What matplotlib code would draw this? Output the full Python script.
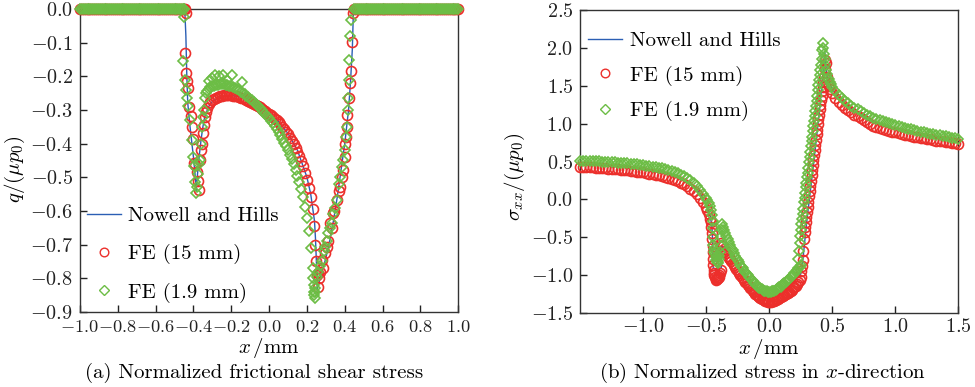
import numpy as np
import matplotlib
matplotlib.use("Agg")
import matplotlib.pyplot as plt
from matplotlib.lines import Line2D
from matplotlib.ticker import FuncFormatter

plt.rcParams['font.family'] = 'serif'
plt.rcParams['font.serif'] = ['cmr10']
plt.rcParams['mathtext.fontset'] = 'cm'
plt.rcParams['axes.formatter.use_mathtext'] = True
plt.rcParams['axes.unicode_minus'] = True

# ---------------- Panel (a): normalized frictional shear stress ----------------
nh_a_x = [-1.0, -0.446, -0.44, -0.435, -0.43, -0.42, -0.41, -0.40, -0.39, -0.385, -0.38, -0.37,
          -0.36, -0.35, -0.34, -0.32, -0.30, -0.25, -0.20, -0.15, -0.10, -0.05, 0.0, 0.05, 0.10,
          0.15, 0.20, 0.22, 0.24, 0.245, 0.25, 0.255, 0.26, 0.28, 0.30, 0.32, 0.34, 0.36, 0.38,
          0.40, 0.42, 0.43, 0.44, 0.446, 1.0]
nh_a_q = [0.0, 0.0, -0.08, -0.20, -0.28, -0.34, -0.39, -0.44, -0.50, -0.54, -0.50, -0.44,
          -0.39, -0.35, -0.32, -0.29, -0.275, -0.26, -0.257, -0.262, -0.277, -0.29, -0.31, -0.335, -0.37,
          -0.42, -0.50, -0.55, -0.63, -0.68, -0.75, -0.83, -0.82, -0.78, -0.74, -0.69, -0.63, -0.56, -0.48,
          -0.40, -0.30, -0.22, -0.12, 0.0, 0.0]

# FE nodes outside the contact (q = 0)
flat_left_x = np.arange(-1.0, -0.445, 0.01)
flat_right_x = np.arange(0.45, 1.0001, 0.01)
flat_left_q = [0.0] * len(flat_left_x)
flat_right_q = [0.0] * len(flat_right_x)

# FE (15 mm)
fe15_a_slipL_x = [-0.446, -0.441, -0.444, -0.439, -0.434, -0.427, -0.422, -0.414, -0.409, -0.403,
                  -0.397, -0.390, -0.383, -0.376, -0.369, -0.365, -0.36, -0.356, -0.35, -0.345,
                  -0.34, -0.335, -0.33]
fe15_a_slipL_q = [0.0, -0.013, -0.132, -0.189, -0.215, -0.236, -0.290, -0.318, -0.350, -0.385,
                  -0.457, -0.465, -0.483, -0.51, -0.537, -0.45, -0.42, -0.40, -0.37, -0.345,
                  -0.32, -0.305, -0.295]
fe15_a_stick_q = [-0.283, -0.276, -0.271, -0.268, -0.265, -0.262, -0.26, -0.258, -0.257, -0.256,
                  -0.256, -0.256, -0.257, -0.258, -0.259, -0.26, -0.262, -0.264, -0.266, -0.268,
                  -0.271, -0.274, -0.277, -0.28, -0.283, -0.286, -0.289, -0.292, -0.296, -0.30,
                  -0.304, -0.308, -0.312, -0.316, -0.321, -0.326, -0.331, -0.337, -0.343, -0.35,
                  -0.357, -0.365, -0.373, -0.382, -0.391, -0.401, -0.412, -0.424, -0.437, -0.452,
                  -0.468, -0.487, -0.508, -0.532, -0.56, -0.595, -0.645, -0.75]
fe15_a_stick_x = np.linspace(-0.32, 0.25, len(fe15_a_stick_q))
fe15_a_slipR_x = [0.245, 0.252, 0.256, 0.261, 0.265, 0.27, 0.279, 0.285, 0.296, 0.305, 0.31, 0.323,
                  0.33, 0.339, 0.345, 0.358, 0.367, 0.376, 0.385, 0.393, 0.40, 0.402, 0.407, 0.411,
                  0.414, 0.42, 0.429, 0.432, 0.437, 0.446]
fe15_a_slipR_q = [-0.70, -0.79, -0.826, -0.785, -0.80, -0.78, -0.745, -0.77, -0.725, -0.706, -0.69, -0.636,
                  -0.65, -0.607, -0.60, -0.567, -0.542, -0.528, -0.50, -0.478, -0.44, -0.40, -0.38, -0.35,
                  -0.315, -0.265, -0.22, -0.183, -0.099, -0.013]

# FE (1.9 mm)
fe19_a_slipL_x = [-0.452, -0.45, -0.453, -0.444, -0.44, -0.435, -0.427, -0.418, -0.409, -0.40,
                  -0.397, -0.392, -0.386, -0.38, -0.375, -0.37, -0.365, -0.36, -0.356, -0.35,
                  -0.345, -0.34, -0.335]
fe19_a_slipL_q = [0.0, -0.023, -0.156, -0.21, -0.24, -0.265, -0.288, -0.33, -0.389, -0.439,
                  -0.468, -0.513, -0.547, -0.53, -0.49, -0.46, -0.449, -0.40, -0.35, -0.32,
                  -0.30, -0.265, -0.25]
fe19_a_out_x = [-0.32, -0.30, -0.286, -0.265, -0.242, -0.22, -0.197, -0.144]
fe19_a_out_q = [-0.215, -0.205, -0.196, -0.20, -0.196, -0.21, -0.196, -0.216]
fe19_a_stick_q = [-0.245, -0.238, -0.233, -0.23, -0.228, -0.226, -0.225, -0.224, -0.224, -0.224,
                  -0.225, -0.226, -0.228, -0.23, -0.233, -0.236, -0.239, -0.242, -0.246, -0.25,
                  -0.254, -0.258, -0.262, -0.267, -0.272, -0.277, -0.282, -0.287, -0.293, -0.299,
                  -0.305, -0.311, -0.318, -0.325, -0.332, -0.34, -0.348, -0.357, -0.366, -0.376,
                  -0.386, -0.397, -0.408, -0.42, -0.433, -0.447, -0.462, -0.478, -0.496, -0.515,
                  -0.536, -0.56, -0.588, -0.62, -0.66, -0.71, -0.77, -0.84]
fe19_a_stick_x = np.linspace(-0.33, 0.24, len(fe19_a_stick_q))
fe19_a_slipR_x = [0.232, 0.236, 0.238, 0.241, 0.243, 0.245, 0.252, 0.26, 0.27, 0.28, 0.29, 0.296,
                  0.305, 0.314, 0.322, 0.332, 0.34, 0.35, 0.358, 0.367, 0.376, 0.385, 0.393, 0.40,
                  0.407, 0.411, 0.415, 0.418, 0.42, 0.425, 0.429, 0.433]
fe19_a_slipR_q = [-0.80, -0.82, -0.85, -0.86, -0.83, -0.84, -0.795, -0.78, -0.765, -0.75, -0.72, -0.706,
                  -0.69, -0.666, -0.65, -0.636, -0.61, -0.59, -0.567, -0.52, -0.498, -0.47, -0.449, -0.42,
                  -0.38, -0.35, -0.30, -0.265, -0.21, -0.151, -0.08, -0.033]

# ---------------- Panel (b): normalized stress in x-direction ----------------
nh_b_x = [-1.5, -1.25, -1.0, -0.8, -0.7, -0.6, -0.55, -0.5, -0.47, -0.455, -0.448, -0.445, -0.43,
          -0.40, -0.38, -0.377, -0.35, -0.30, -0.20, -0.10, 0.0, 0.10, 0.20, 0.25, 0.26, 0.30, 0.35,
          0.40, 0.43, 0.44, 0.447, 0.46, 0.5, 0.6, 0.8, 1.0, 1.2, 1.5]
nh_b_s = [0.47, 0.44, 0.40, 0.33, 0.27, 0.17, 0.08, -0.06, -0.20, -0.35, -0.60, -0.90, -0.92,
          -0.92, -0.90, -0.62, -0.64, -0.72, -0.97, -1.18, -1.28, -1.22, -1.07, -0.98, -0.90, -0.25, 0.45,
          1.2, 1.75, 1.95, 1.80, 1.60, 1.45, 1.26, 1.04, 0.93, 0.86, 0.77]

# FE (15 mm)
fe15_b_L_s = [0.43, 0.428, 0.426, 0.424, 0.422, 0.419, 0.416, 0.413, 0.410, 0.407, 0.404, 0.400,
              0.396, 0.392, 0.388, 0.383, 0.378, 0.373, 0.368, 0.362, 0.356, 0.349, 0.342, 0.334,
              0.326, 0.317, 0.307, 0.296, 0.284, 0.271, 0.256, 0.239, 0.220, 0.198, 0.172, 0.142,
              0.107, 0.066, 0.018, -0.040]
fe15_b_L_x = np.linspace(-1.5, -0.525, len(fe15_b_L_s))
fe15_b_J_x = [-0.50, -0.49, -0.48, -0.47, -0.465, -0.46, -0.455, -0.452, -0.45, -0.448, -0.446, -0.444,
              -0.442, -0.44, -0.435, -0.43, -0.425, -0.42, -0.415, -0.41, -0.405, -0.40, -0.395, -0.39,
              -0.385, -0.38, -0.375]
fe15_b_J_s = [-0.10, -0.14, -0.19, -0.26, -0.30, -0.36, -0.44, -0.52, -0.62, -0.70, -0.79, -0.86,
              -0.93, -0.97, -1.00, -1.03, -1.05, -1.06, -1.05, -1.04, -1.03, -1.02, -1.00, -0.97,
              -0.93, -0.58, -0.60]
fe15_b_C_s = [-0.62, -0.65, -0.68, -0.71, -0.74, -0.77, -0.79, -0.81, -0.84, -0.86, -0.89, -0.92,
              -0.94, -0.97, -0.995, -1.02, -1.04, -1.065, -1.085, -1.105, -1.125, -1.145, -1.165,
              -1.185, -1.205, -1.225, -1.245, -1.26, -1.275, -1.29, -1.30, -1.31, -1.32, -1.33, -1.34,
              -1.345, -1.35, -1.35, -1.35, -1.345, -1.34, -1.335, -1.33, -1.32, -1.31, -1.30, -1.29,
              -1.28, -1.27, -1.26, -1.25, -1.24, -1.23, -1.22, -1.205, -1.19, -1.175, -1.16, -1.14,
              -1.12, -1.09, -1.06, -1.02]
fe15_b_C_x = np.linspace(-0.37, 0.25, len(fe15_b_C_s))
fe15_b_R1_s = [-0.95, -0.88, -0.80, -0.68, -0.52, -0.43, -0.36, -0.30, -0.23, -0.16, -0.10, -0.03,
               0.04, 0.11, 0.18, 0.25, 0.32, 0.39, 0.46, 0.52, 0.59, 0.65, 0.72, 0.79, 0.86, 0.92,
               0.99, 1.06, 1.12, 1.19, 1.25, 1.31, 1.37, 1.43, 1.49, 1.55, 1.62, 1.72, 1.84, 1.80]
fe15_b_R1_x = np.linspace(0.255, 0.45, len(fe15_b_R1_s))
fe15_b_D_x = [0.455, 0.46, 0.47, 0.48]
fe15_b_D_s = [1.62, 1.55, 1.50, 1.46]
fe15_b_R2_s = [1.40, 1.34, 1.29, 1.25, 1.21, 1.18, 1.15, 1.12, 1.10, 1.07, 1.05, 1.02,
               0.99, 0.975, 0.96, 0.945, 0.93, 0.918, 0.906, 0.895, 0.884, 0.874, 0.864, 0.855,
               0.846, 0.837, 0.829, 0.821, 0.813, 0.806, 0.799, 0.792, 0.785, 0.778, 0.771, 0.765,
               0.759, 0.753, 0.747, 0.741, 0.735]
fe15_b_R2_x = np.linspace(0.5, 1.5, len(fe15_b_R2_s))

# FE (1.9 mm)
fe19_b_L_s = [0.51, 0.509, 0.508, 0.507, 0.506, 0.504, 0.502, 0.500, 0.498, 0.496, 0.493, 0.490,
              0.487, 0.484, 0.480, 0.476, 0.472, 0.468, 0.463, 0.458, 0.453, 0.447, 0.441, 0.434,
              0.427, 0.419, 0.410, 0.400, 0.389, 0.376, 0.362, 0.346, 0.327, 0.305, 0.280, 0.251,
              0.217, 0.177, 0.130, 0.075]
fe19_b_L_x = np.linspace(-1.5, -0.525, len(fe19_b_L_s))
fe19_b_J_x = [-0.50, -0.49, -0.48, -0.47, -0.46, -0.455, -0.45, -0.447, -0.445, -0.443, -0.44, -0.435,
              -0.43, -0.425, -0.42, -0.415, -0.41, -0.405, -0.40, -0.395, -0.39, -0.385, -0.38, -0.378,
              -0.375]
fe19_b_J_s = [0.02, -0.01, -0.05, -0.09, -0.14, -0.20, -0.28, -0.38, -0.50, -0.60, -0.66, -0.70,
              -0.72, -0.76, -0.80, -0.82, -0.84, -0.82, -0.78, -0.74, -0.70, -0.62, -0.50, -0.40,
              -0.32]
fe19_b_C_s = [-0.36, -0.40, -0.44, -0.48, -0.52, -0.56, -0.60, -0.64, -0.67, -0.71, -0.74, -0.77,
              -0.80, -0.83, -0.86, -0.89, -0.91, -0.94, -0.96, -0.98, -1.00, -1.02, -1.04, -1.06,
              -1.08, -1.10, -1.12, -1.135, -1.15, -1.165, -1.175, -1.185, -1.195, -1.205, -1.21,
              -1.215, -1.22, -1.22, -1.22, -1.215, -1.21, -1.205, -1.195, -1.185, -1.175, -1.16,
              -1.15, -1.135, -1.12, -1.105, -1.09, -1.075, -1.06, -1.045, -1.03, -1.01, -0.995,
              -0.975, -0.955, -0.935, -0.91, -0.89, -0.87]
fe19_b_C_x = np.linspace(-0.37, 0.25, len(fe19_b_C_s))
fe19_b_R1_s = [-0.78, -0.68, -0.58, -0.48, -0.40, -0.33, -0.26, -0.19, -0.12, -0.04, 0.02, 0.09,
               0.16, 0.22, 0.29, 0.35, 0.42, 0.49, 0.56, 0.63, 0.70, 0.77, 0.83, 0.90, 0.97, 1.03,
               1.10, 1.17, 1.24, 1.30, 1.37, 1.44, 1.51, 1.58, 1.64, 1.71, 1.78, 1.86, 1.97, 2.07]
fe19_b_R1_x = np.linspace(0.23, 0.425, len(fe19_b_R1_s))
fe19_b_D_x = [0.43, 0.435, 0.44, 0.445, 0.45, 0.46, 0.47, 0.48, 0.49]
fe19_b_D_s = [2.0, 1.92, 1.85, 1.78, 1.71, 1.65, 1.59, 1.55, 1.52]
fe19_b_R2_s = [1.49, 1.43, 1.38, 1.34, 1.30, 1.27, 1.24, 1.21, 1.19, 1.165, 1.145, 1.115,
               1.095, 1.078, 1.062, 1.047, 1.033, 1.019, 1.005, 0.992, 0.98, 0.968, 0.957, 0.946,
               0.935, 0.925, 0.915, 0.905, 0.896, 0.887, 0.878, 0.87, 0.862, 0.854, 0.846, 0.838,
               0.831, 0.824, 0.817, 0.81, 0.803]
fe19_b_R2_x = np.linspace(0.5, 1.5, len(fe19_b_R2_s))

legend_labels = ["Nowell and Hills", "FE (15 mm)", "FE (1.9 mm)"]
xticks_a = [-1.0, -0.8, -0.6, -0.4, -0.2, 0.0, 0.2, 0.4, 0.6, 0.8, 1.0]
yticks_a = [-0.9, -0.8, -0.7, -0.6, -0.5, -0.4, -0.3, -0.2, -0.1, 0.0]
xticks_b = [-1.0, -0.5, 0.0, 0.5, 1.0, 1.5]
yticks_b = [-1.5, -1.0, -0.5, 0.0, 0.5, 1.0, 1.5, 2.0, 2.5]

# ---------------- styling ----------------
C_RED = '#ec2f2b'
C_GREEN = '#6cbd45'
C_BLUE = '#2b5fb4'
FS = 15.0
FS_TICK = 14.5
FS_TICK_XA = 13.2

fig = plt.figure(figsize=(9.75, 3.87), dpi=100)
axa = fig.add_axes([0.082, 0.194, 0.388, 0.783])
axb = fig.add_axes([0.595, 0.191, 0.388, 0.783])

red_kw = dict(ls='none', marker='o', mfc='none', mec=C_RED, ms=7.2, mew=1.2, clip_on=False)
green_kw = dict(ls='none', marker='D', mfc='none', mec=C_GREEN, ms=5.6, mew=1.2, clip_on=False)


def cat(*parts):
    return np.concatenate([np.asarray(p, dtype=float) for p in parts])


def fmt(v, p=None):
    if abs(v) < 1e-9:
        v = 0.0
    return f"${v:.1f}$"

# panel a
axa.plot(nh_a_x, nh_a_q, color=C_BLUE, lw=1.0, zorder=2)
axa.plot(cat(flat_left_x, fe15_a_slipL_x, fe15_a_stick_x, fe15_a_slipR_x, flat_right_x),
         cat(flat_left_q, fe15_a_slipL_q, fe15_a_stick_q, fe15_a_slipR_q, flat_right_q), zorder=3, **red_kw)
axa.plot(cat(flat_left_x, fe19_a_slipL_x, fe19_a_out_x, fe19_a_stick_x, fe19_a_slipR_x, flat_right_x),
         cat(flat_left_q, fe19_a_slipL_q, fe19_a_out_q, fe19_a_stick_q, fe19_a_slipR_q, flat_right_q),
         zorder=4, **green_kw)
axa.set_xlim(-1.0, 1.0)
axa.set_ylim(-0.9, 0.0)
axa.set_xticks(xticks_a)
axa.set_yticks(yticks_a)
axa.set_xlabel(r"$x\,$/mm", fontsize=FS)
axa.set_ylabel(r"$q/(\mu p_0)$", fontsize=FS)
axa.yaxis.set_label_coords(-0.14, 0.47)
axa.xaxis.set_label_coords(0.5, -0.078)

# panel b
axb.plot(nh_b_x, nh_b_s, color=C_BLUE, lw=1.0, zorder=2)
axb.plot(cat(fe15_b_L_x, fe15_b_J_x, fe15_b_C_x, fe15_b_R1_x, fe15_b_D_x, fe15_b_R2_x),
         cat(fe15_b_L_s, fe15_b_J_s, fe15_b_C_s, fe15_b_R1_s, fe15_b_D_s, fe15_b_R2_s), zorder=3, **red_kw)
axb.plot(cat(fe19_b_L_x, fe19_b_J_x, fe19_b_C_x, fe19_b_R1_x, fe19_b_D_x, fe19_b_R2_x),
         cat(fe19_b_L_s, fe19_b_J_s, fe19_b_C_s, fe19_b_R1_s, fe19_b_D_s, fe19_b_R2_s), zorder=4, **green_kw)
axb.set_xlim(-1.5, 1.5)
axb.set_ylim(-1.5, 2.5)
axb.set_xticks(xticks_b)
axb.set_yticks(yticks_b)
axb.set_xlabel(r"$x\,$/mm", fontsize=FS)
axb.set_ylabel(r"$\sigma_{xx}/(\mu p_0)$", fontsize=FS)
axb.yaxis.set_label_coords(-0.14, 0.45)
axb.xaxis.set_label_coords(0.5, -0.078)

for ax in (axa, axb):
    ax.xaxis.set_major_formatter(FuncFormatter(fmt))
    ax.yaxis.set_major_formatter(FuncFormatter(fmt))
    ax.tick_params(direction='in', length=5, width=1.0, labelsize=FS_TICK, pad=5,
                   top=False, right=False, colors='#222222')
    for sp in ax.spines.values():
        sp.set_linewidth(1.0)
        sp.set_color('#333333')
axa.tick_params(axis='x', labelsize=FS_TICK_XA, pad=5)
axb.tick_params(axis='x', pad=3.5)

handles = [Line2D([], [], color=C_BLUE, lw=1.0),
           Line2D([], [], ls='none', marker='o', mfc='none', mec=C_RED, ms=6.2, mew=1.0),
           Line2D([], [], ls='none', marker='D', mfc='none', mec=C_GREEN, ms=5.0, mew=1.0)]

axa.legend(handles, legend_labels, loc='lower left', bbox_to_anchor=(0.018, 0.03), frameon=False,
           fontsize=FS, labelspacing=0.9, handlelength=1.65, handletextpad=0.35,
           borderaxespad=0.0, borderpad=0.0)
axb.legend(handles, legend_labels, loc='upper left', bbox_to_anchor=(0.021, 0.93), frameon=False,
           fontsize=FS, labelspacing=0.75, handlelength=1.65, handletextpad=0.38,
           borderaxespad=0.0, borderpad=0.0)

fig.text(254 / 975, 1 - 373 / 387, "(a) Normalized frictional shear stress", ha='center', va='center',
         fontsize=FS)
fig.text(762 / 975, 1 - 373 / 387, r"(b) Normalized stress in $x$-direction", ha='center', va='center',
         fontsize=FS)

fig.savefig("out.png", dpi=100)
